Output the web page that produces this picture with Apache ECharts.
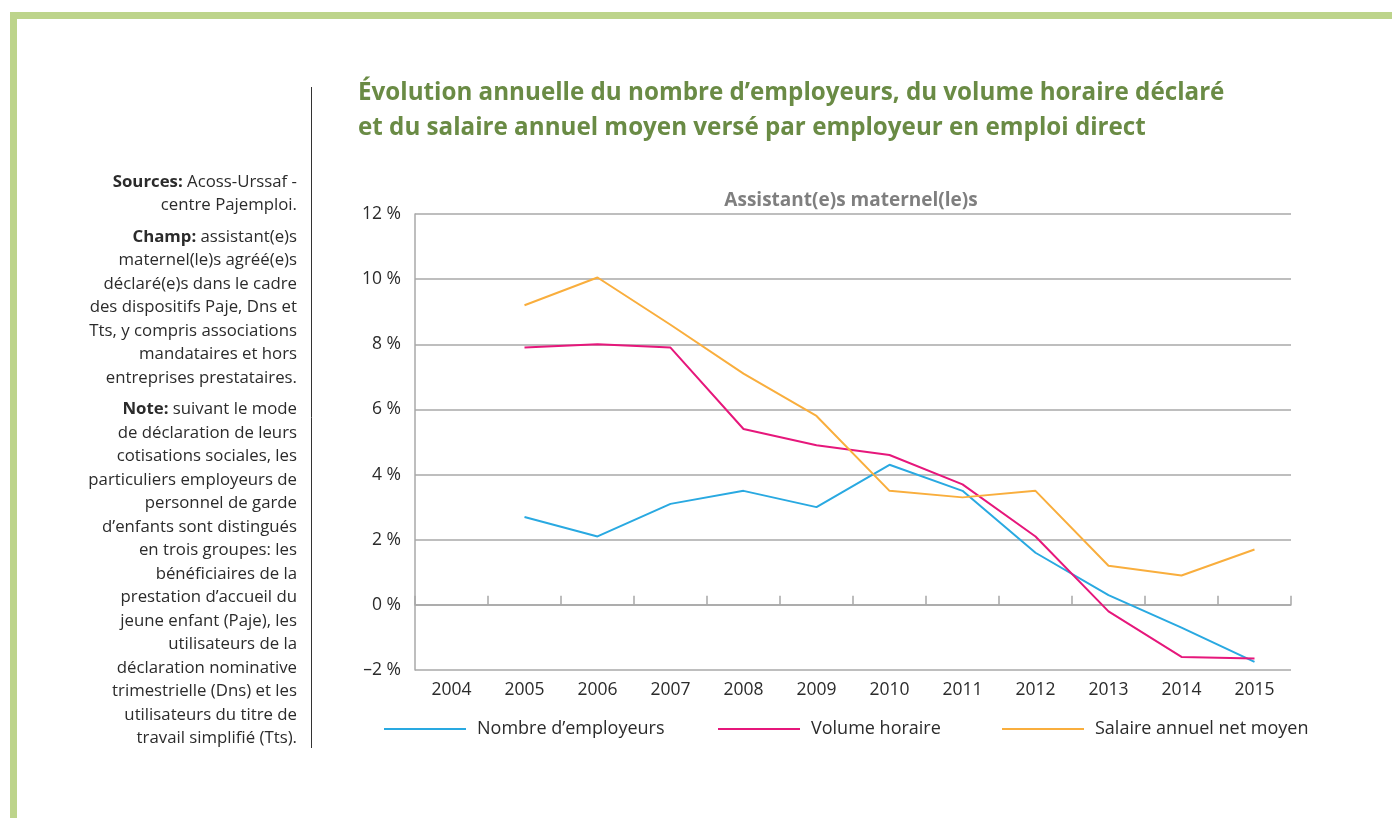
<!DOCTYPE html>
<html>
<head>
<meta charset="utf-8">
<script src="https://cdn.jsdelivr.net/npm/echarts@6/dist/echarts.min.js"></script>
<style>
  html, body { margin: 0; padding: 0; background: #fff; }
  #chart { width: 1392px; height: 818px; }
</style>
</head>
<body>
<div id="chart"></div>
<script>
// données
const years = ['2004', '2005', '2006', '2007', '2008', '2009', '2010', '2011', '2012', '2013', '2014', '2015']
const employeurs = [null, 2.7, 2.1, 3.1, 3.5, 3.0, 4.3, 3.5, 1.6, 0.3, -0.7, -1.75]
const volumeHoraire = [null, 7.9, 8.0, 7.9, 5.4, 4.9, 4.6, 3.7, 2.1, -0.2, -1.6, -1.65]
const salaire = [null, 9.2, 10.05, 8.6, 7.1, 5.8, 3.5, 3.3, 3.5, 1.2, 0.9, 1.7]
const seriesNames = ['Nombre d\u2019employeurs', 'Volume horaire', 'Salaire annuel net moyen']
const yTicks = { min: -2, max: 12, interval: 2 }

const mainTitle = '\u00c9volution annuelle du nombre d\u2019employeurs, du volume horaire d\u00e9clar\u00e9\net du salaire annuel moyen vers\u00e9 par employeur en emploi direct'
const chartTitle = 'Assistant(e)s maternel(le)s'

// notes de côté : [libellé en gras, lignes]
const notes = [
  ['Sources:', [' Acoss-Urssaf -', 'centre Pajemploi.']],
  ['Champ:', [' assistant(e)s', 'maternel(le)s agr\u00e9\u00e9(e)s', 'd\u00e9clar\u00e9(e)s dans le cadre', 'des dispositifs Paje, Dns et', 'Tts, y compris associations', 'mandataires et hors', 'entreprises prestataires.']],
  ['Note:', [' suivant le mode', 'de d\u00e9claration de leurs', 'cotisations sociales, les', 'particuliers employeurs de', 'personnel de garde', 'd\u2019enfants sont distingu\u00e9s', 'en trois groupes: les', 'b\u00e9n\u00e9ficiaires de la', 'prestation d\u2019accueil du', 'jeune enfant (Paje), les', 'utilisateurs de la', 'd\u00e9claration nominative', 'trimestrielle (Dns) et les', 'utilisateurs du titre de', 'travail simplifi\u00e9 (Tts).']]
]

const colors = ['#29a9e1', '#e6177b', '#f9ae3d']
const grey = '#a8a8a8'
const font = 'Open Sans'

const chart = echarts.init(document.getElementById('chart'))

// textes de la colonne de gauche
const noteGraphics = []
let y = 182
notes.forEach(function (p) {
  p[1].forEach(function (line, i) {
    noteGraphics.push({
      type: 'text',
      x: 297,
      y: y,
      style: {
        text: i === 0 ? '{b|' + p[0] + '}' + line : line,
        align: 'right',
        verticalAlign: 'middle',
        font: '16.8px "' + font + '"',
        fill: '#2b2b2b',
        rich: { b: { fontWeight: 'bold', fontSize: 16.8, fontFamily: font, fill: '#2b2b2b' } }
      }
    })
    y += 23.5
  })
  y += 8
})

const option = {
  animation: false,
  color: colors,
  textStyle: { fontFamily: font },
  title: [
    {
      text: mainTitle,
      left: 358,
      top: 76,
      padding: 0,
      textStyle: { color: '#6a8b45', fontSize: 24.2, fontWeight: 'bold', lineHeight: 35, fontFamily: font }
    },
    {
      text: chartTitle,
      left: 846,
      top: 186,
      textAlign: 'center',
      textStyle: { color: '#7f7f7f', fontSize: 19, fontWeight: 'bold', fontFamily: font }
    }
  ],
  graphic: [
    {
      type: 'rect',
      shape: { x: 13.5, y: 15.5, width: 1500, height: 1000 },
      style: { fill: 'none', stroke: '#bdd48b', lineWidth: 7 }
    },
    {
      type: 'line',
      shape: { x1: 311.5, y1: 87, x2: 311.5, y2: 748 },
      style: { stroke: '#333', lineWidth: 1 }
    }
  ].concat(noteGraphics),
  legend: seriesNames.map(function (n, i) {
    return {
      data: [n],
      left: [384, 718, 1002][i],
      top: 720,
      padding: 0,
      itemWidth: 82,
      itemHeight: 20,
      icon: 'path://M0,9 L82,9 L82,11 L0,11 Z',
      textStyle: { fontSize: 18, color: '#2b2b2b', fontFamily: font, padding: [0, 0, 0, 6] }
    }
  }),
  grid: { left: 415, top: 214, right: 101, bottom: 148, containLabel: false },
  xAxis: [
    {
      type: 'category',
      data: years,
      position: 'bottom',
      axisLine: { show: false, onZero: false },
      axisTick: { show: false },
      axisLabel: { color: '#2b2b2b', fontSize: 17.5, margin: 11 }
    },
    {
      type: 'category',
      data: years,
      position: 'top',
      axisLine: { show: true, onZero: true, lineStyle: { color: grey, width: 1.5 } },
      axisTick: { show: true, inside: false, length: 9, lineStyle: { color: grey, width: 1.5 } },
      axisLabel: { show: false }
    }
  ],
  yAxis: {
    type: 'value',
    min: yTicks.min,
    max: yTicks.max,
    interval: yTicks.interval,
    axisLine: { show: true, lineStyle: { color: grey, width: 1.5 } },
    axisTick: { show: false },
    splitLine: { lineStyle: { color: grey, width: 1.5 } },
    axisLabel: {
      color: '#2b2b2b',
      fontSize: 17.5,
      margin: 14,
      formatter: function (v) { return (v < 0 ? '\u2013' + Math.abs(v) : v) + ' %' }
    }
  },
  series: [
    { name: seriesNames[0], type: 'line', data: employeurs, symbol: 'none', lineStyle: { width: 2 } },
    { name: seriesNames[1], type: 'line', data: volumeHoraire, symbol: 'none', lineStyle: { width: 2 } },
    { name: seriesNames[2], type: 'line', data: salaire, symbol: 'none', lineStyle: { width: 2 } }
  ]
}

chart.setOption(option)
</script>
</body>
</html>
